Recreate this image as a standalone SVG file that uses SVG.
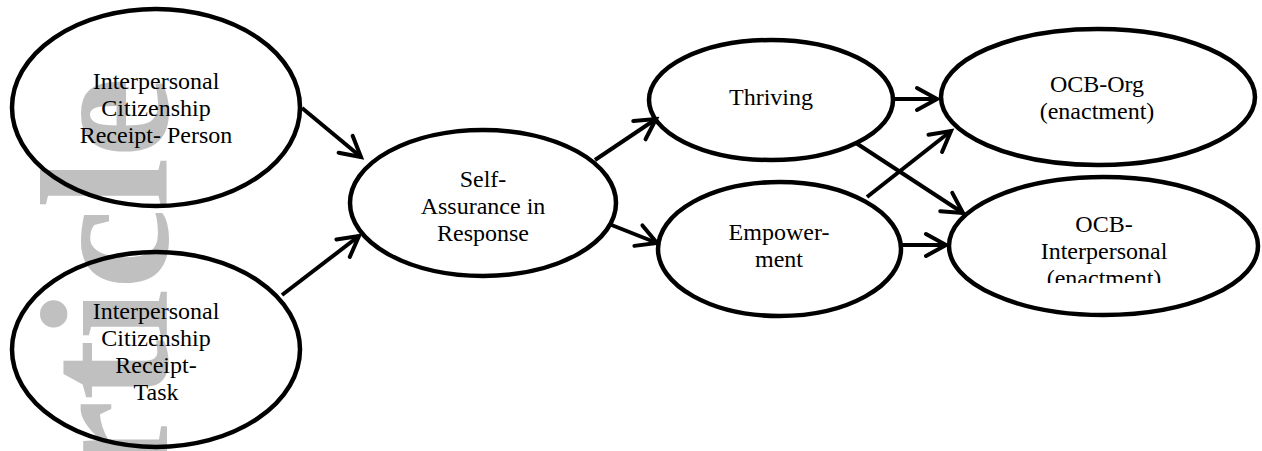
<svg xmlns="http://www.w3.org/2000/svg" width="1262" height="451" viewBox="0 0 1262 451">
<style>
  .node { fill: none; stroke: #000; stroke-width: 4.5; }
  .lbl { font-family: "Liberation Serif", "Times New Roman", serif; font-size: 24px; fill: #000; text-anchor: middle; }
  .edge { stroke: #000; stroke-width: 4; fill: none; marker-end: url(#arrow); }
  .wm { font-family: "Liberation Serif", "Times New Roman", serif; font-weight: bold; font-size: 182px; fill: #c0c0c0; text-anchor: end; }
</style>
<defs>
  <marker id="arrow" markerUnits="userSpaceOnUse" markerWidth="30" markerHeight="30" viewBox="-24 -15 28 30" refX="0" refY="0" orient="auto" overflow="visible">
    <path d="M-20,-11 L0,0 L-20,11" fill="none" stroke="#000" stroke-width="4" stroke-linecap="round" stroke-linejoin="miter"/>
  </marker>
  <clipPath id="clipOCBI">
    <rect x="940" y="170" width="322" height="113"/>
  </clipPath>
</defs>
<rect width="1262" height="451" fill="#fff"/>
<text class="wm" transform="translate(167,77) rotate(-90)">Article</text>

<g id="connectors">
  <line class="edge" x1="302" y1="108" x2="361" y2="157"/>
  <line class="edge" x1="282" y1="295" x2="359" y2="236"/>
  <line class="edge" x1="595" y1="160" x2="656" y2="119"/>
  <line class="edge" x1="609" y1="224" x2="657" y2="243"/>
  <line class="edge" x1="892" y1="99" x2="937" y2="99"/>
  <line class="edge" x1="856" y1="143" x2="963" y2="213"/>
  <line class="edge" x1="867" y1="197" x2="951" y2="131"/>
  <line class="edge" x1="902" y1="245" x2="946" y2="245"/>
</g>

<g id="node-icr-person">
  <ellipse class="node" cx="156" cy="107.5" rx="144" ry="98.5"/>
  <text class="lbl" x="156" y="89">Interpersonal</text>
  <text class="lbl" x="156" y="116">Citizenship</text>
  <text class="lbl" x="156" y="143">Receipt- Person</text>
</g>
<g id="node-icr-task">
  <ellipse class="node" cx="156" cy="349.5" rx="144" ry="97.5"/>
  <text class="lbl" x="156" y="319">Interpersonal</text>
  <text class="lbl" x="156" y="346">Citizenship</text>
  <text class="lbl" x="156" y="373">Receipt-</text>
  <text class="lbl" x="156" y="400">Task</text>
</g>
<g id="node-self-assurance">
  <ellipse class="node" cx="483" cy="203" rx="133" ry="73"/>
  <text class="lbl" x="483" y="187">Self-</text>
  <text class="lbl" x="483" y="214">Assurance in</text>
  <text class="lbl" x="483" y="241">Response</text>
</g>
<g id="node-thriving">
  <ellipse class="node" cx="771" cy="100" rx="122" ry="60"/>
  <text class="lbl" x="771" y="105">Thriving</text>
</g>
<g id="node-empowerment">
  <ellipse class="node" cx="779.5" cy="249" rx="121.5" ry="67"/>
  <text class="lbl" x="779" y="240">Empower-</text>
  <text class="lbl" x="779" y="267">ment</text>
</g>
<g id="node-ocb-org">
  <ellipse class="node" cx="1098" cy="97" rx="157" ry="68"/>
  <text class="lbl" x="1097" y="92">OCB-Org</text>
  <text class="lbl" x="1097" y="119">(enactment)</text>
</g>
<g id="node-ocb-interpersonal">
  <ellipse class="node" cx="1103.5" cy="246" rx="154.5" ry="69"/>
  <g clip-path="url(#clipOCBI)">
    <text class="lbl" x="1104" y="232">OCB-</text>
    <text class="lbl" x="1104" y="259">Interpersonal</text>
    <text class="lbl" x="1104" y="286">(enactment)</text>
  </g>
</g>
</svg>
